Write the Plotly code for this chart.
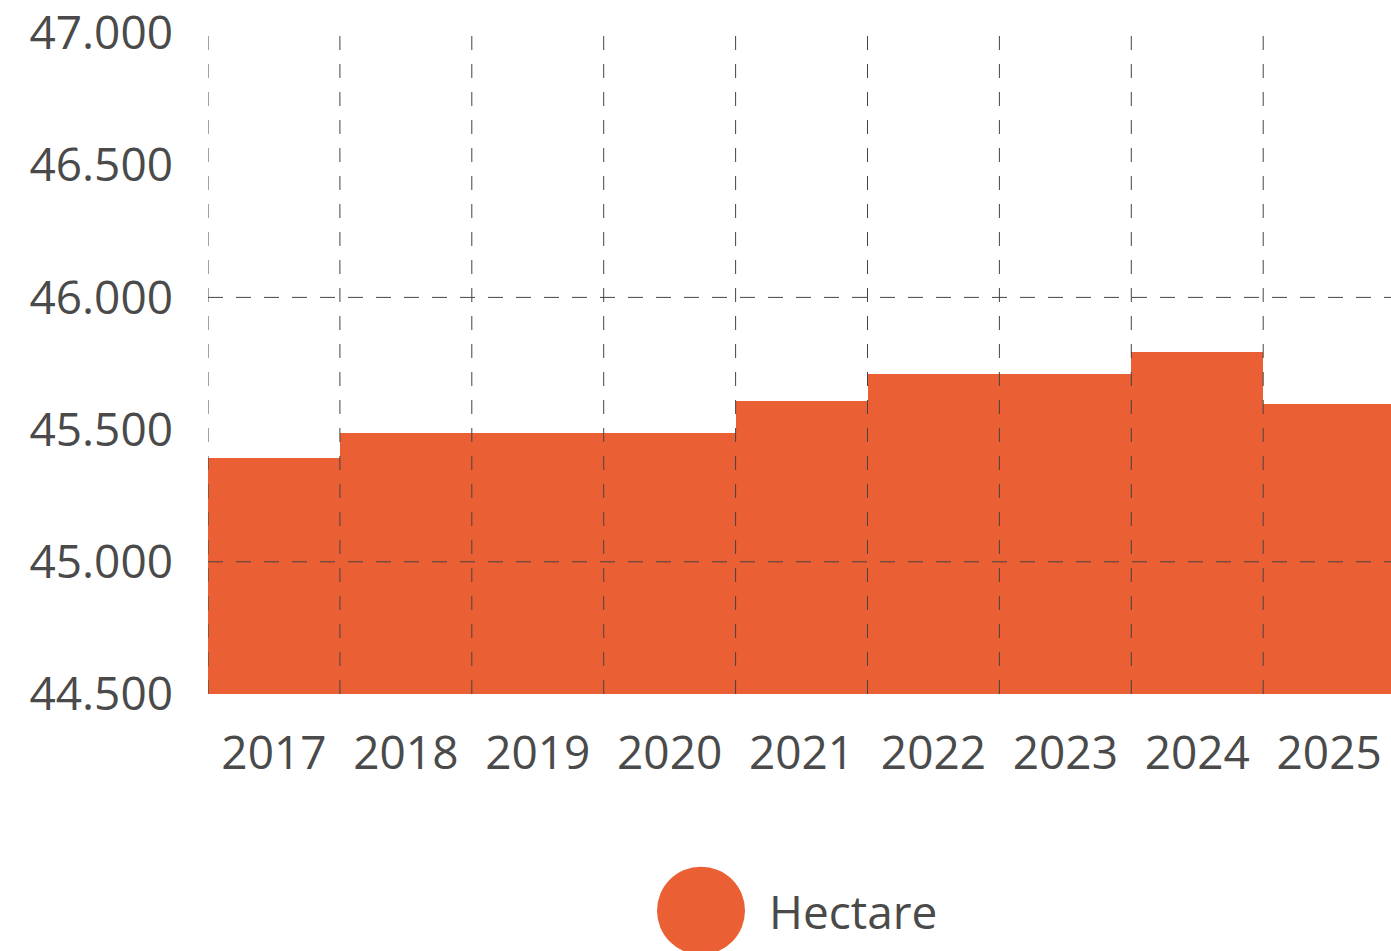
import plotly.graph_objects as go

# ---- data ----
years = ["2017", "2018", "2019", "2020", "2021", "2022", "2023", "2024", "2025"]
hectare = [45392, 45486, 45486, 45486, 45610, 45712, 45712, 45793, 45595]
y_ticks = [44500, 45000, 45500, 46000, 46500, 47000]
y_grid = [45000, 46000]
series_name = "Hectare"

BAR_COLOR = "#EA5F33"
TEXT_COLOR = "#4a4a4a"
GRID_COLOR = "#444444"
FONT = "Open Sans"

xs = list(range(len(years)))

fig = go.Figure()
fig.add_trace(go.Bar(
    x=xs, y=hectare, width=1.0,
    marker=dict(color=BAR_COLOR, line=dict(width=0)),
    name=series_name, showlegend=False, hoverinfo="skip",
))

shapes = []
# vertical dashed grid at category boundaries (drawn above bars)
for i in range(len(years) + 1):
    shapes.append(dict(type="line", xref="x", yref="paper",
                       x0=i - 0.5, x1=i - 0.5, y0=0, y1=1, layer="above",
                       line=dict(color=GRID_COLOR, width=1, dash="14px,14px")))
# horizontal dashed grid
for v in y_grid:
    shapes.append(dict(type="line", xref="paper", yref="y",
                       x0=0, x1=1, y0=v, y1=v, layer="above",
                       line=dict(color=GRID_COLOR, width=1, dash="15px,13px")))

# custom large legend marker
W, H = 1391, 951
L, R, T, B = 208, 0, 29, 257
pw, ph = W - L - R, H - T - B
cx, cy = 701, 912
shapes.append(dict(type="circle", xref="paper", yref="paper",
                   xsizemode="pixel", ysizemode="pixel",
                   xanchor=(cx - L) / pw, yanchor=(H - B - cy) / ph,
                   x0=-44, x1=44, y0=-44, y1=44,
                   fillcolor=BAR_COLOR, line=dict(width=0), layer="above"))

fig.update_layout(
    width=W, height=H,
    margin=dict(l=L, r=R, t=T, b=B, pad=0),
    paper_bgcolor="white", plot_bgcolor="white",
    separators=",.",
    font=dict(family=FONT, size=46, color=TEXT_COLOR),
    bargap=0,
    showlegend=False,
    shapes=shapes,
    annotations=[dict(text=series_name, xref="paper", yref="paper",
                      x=(767 - L) / pw, y=(H - B - cy) / ph,
                      xanchor="left", yanchor="middle", showarrow=False,
                      font=dict(family=FONT, size=46, color=TEXT_COLOR))],
)
fig.update_xaxes(
    range=[-0.5, -0.5 + pw / 131.9],
    tickmode="array", tickvals=xs, ticktext=years,
    showgrid=False, zeroline=False, showline=False, ticks="",
    ticklabelstandoff=28, ticklabeloverflow="allow",
)
fig.update_yaxes(
    range=[44500, 47000],
    tickmode="array", tickvals=y_ticks, tickformat=",d",
    showgrid=False, zeroline=False, showline=False, ticks="",
    ticklabelstandoff=34, ticklabeloverflow="allow",
)

fig.write_html("out.html", config={"displayModeBar": False},
               post_script="document.body.style.margin='0';document.body.style.overflow='hidden';")
